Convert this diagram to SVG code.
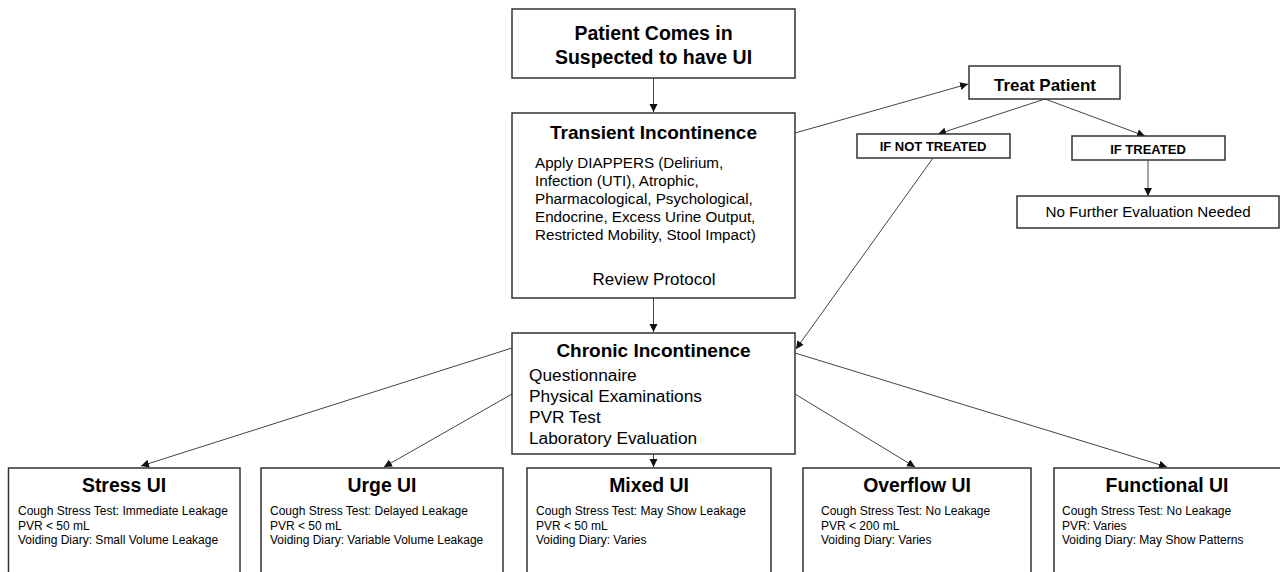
<svg xmlns="http://www.w3.org/2000/svg" width="1280" height="572" viewBox="0 0 1280 572">
<style>
.box{fill:#fff;stroke:#333;stroke-width:1.5}
.t{font-family:"Liberation Sans",Arial,sans-serif;fill:#000}
.b{font-weight:bold}
.c{text-anchor:middle}
.ln{stroke:#444;stroke-width:1;fill:none;marker-end:url(#ah)}
</style>
<defs>
<marker id="ah" markerUnits="userSpaceOnUse" markerWidth="10" markerHeight="10" refX="8" refY="4" orient="auto">
<path d="M0,0 L8,4 L0,8 z" fill="#111"/>
</marker>
</defs>
<rect width="1280" height="572" fill="#fff"/>
<g id="connectors">
<line class="ln" x1="653.5" y1="78" x2="653.5" y2="112"/>
<line class="ln" x1="653.5" y1="298" x2="653.5" y2="332"/>
<line class="ln" x1="653.5" y1="454" x2="653.5" y2="467"/>
<line class="ln" x1="795" y1="133" x2="968" y2="84"/>
<line class="ln" x1="1045" y1="99" x2="938" y2="134"/>
<line class="ln" x1="1045" y1="99" x2="1145" y2="136"/>
<line class="ln" x1="1148" y1="160" x2="1148" y2="196"/>
<line class="ln" x1="933" y1="158" x2="796" y2="349"/>
<line class="ln" x1="512" y1="348" x2="141" y2="466"/>
<line class="ln" x1="512" y1="394" x2="384" y2="467"/>
<line class="ln" x1="795" y1="394" x2="915" y2="467"/>
<line class="ln" x1="795" y1="353" x2="1167" y2="467"/>
</g>
<g id="patient">
<rect class="box" x="512" y="9" width="283" height="69"/>
<text class="t b c" x="653.5" y="40" font-size="19.5">Patient Comes in</text>
<text class="t b c" x="653.5" y="64" font-size="19.5">Suspected to have UI</text>
</g>
<g id="transient">
<rect class="box" x="512" y="113" width="283" height="185"/>
<text class="t b c" x="653.5" y="139" font-size="19">Transient Incontinence</text>
<text class="t" x="535" y="168" font-size="15.2">Apply DIAPPERS (Delirium,</text>
<text class="t" x="535" y="186" font-size="15.2">Infection (UTI), Atrophic,</text>
<text class="t" x="535" y="204" font-size="15.2">Pharmacological, Psychological,</text>
<text class="t" x="535" y="222" font-size="15.2">Endocrine, Excess Urine Output,</text>
<text class="t" x="535" y="240" font-size="15.2">Restricted Mobility, Stool Impact)</text>
<text class="t c" x="654" y="285" font-size="17">Review Protocol</text>
</g>
<g id="treat">
<rect class="box" x="969" y="66" width="151" height="33"/>
<text class="t b c" x="1045" y="91" font-size="17">Treat Patient</text>
</g>
<g id="not-treated">
<rect class="box" x="857" y="134" width="153" height="24"/>
<text class="t b c" x="933" y="151" font-size="13">IF NOT TREATED</text>
</g>
<g id="treated">
<rect class="box" x="1072" y="136" width="153" height="24"/>
<text class="t b c" x="1148" y="154" font-size="13">IF TREATED</text>
</g>
<g id="no-further">
<rect class="box" x="1017" y="196" width="262" height="32"/>
<text class="t c" x="1148" y="217" font-size="15.2">No Further Evaluation Needed</text>
</g>
<g id="chronic">
<rect class="box" x="512" y="333" width="283" height="121"/>
<text class="t b c" x="653.5" y="357" font-size="19">Chronic Incontinence</text>
<text class="t" x="529" y="381" font-size="17.3">Questionnaire</text>
<text class="t" x="529" y="402" font-size="17.3">Physical Examinations</text>
<text class="t" x="529" y="423" font-size="17.3">PVR Test</text>
<text class="t" x="529" y="444" font-size="17.3">Laboratory Evaluation</text>
</g>
<g id="stress">
<rect class="box" x="8.5" y="468" width="231.5" height="120"/>
<text class="t b c" x="124" y="492" font-size="19.4">Stress UI</text>
<text class="t" x="18" y="515" font-size="12">Cough Stress Test: Immediate Leakage</text>
<text class="t" x="18" y="529.5" font-size="12">PVR &lt; 50 mL</text>
<text class="t" x="18" y="544" font-size="12">Voiding Diary: Small Volume Leakage</text>
</g>
<g id="urge">
<rect class="box" x="261" y="468" width="242" height="120"/>
<text class="t b c" x="382" y="492" font-size="19.4">Urge UI</text>
<text class="t" x="270" y="515" font-size="12">Cough Stress Test: Delayed Leakage</text>
<text class="t" x="270" y="529.5" font-size="12">PVR &lt; 50 mL</text>
<text class="t" x="270" y="544" font-size="12">Voiding Diary: Variable Volume Leakage</text>
</g>
<g id="mixed">
<rect class="box" x="527" y="468" width="244" height="120"/>
<text class="t b c" x="649" y="492" font-size="19.4">Mixed UI</text>
<text class="t" x="536" y="515" font-size="12">Cough Stress Test: May Show Leakage</text>
<text class="t" x="536" y="529.5" font-size="12">PVR &lt; 50 mL</text>
<text class="t" x="536" y="544" font-size="12">Voiding Diary: Varies</text>
</g>
<g id="overflow">
<rect class="box" x="803" y="468" width="228" height="120"/>
<text class="t b c" x="917" y="492" font-size="19.4">Overflow UI</text>
<text class="t" x="821" y="515" font-size="12">Cough Stress Test: No Leakage</text>
<text class="t" x="821" y="529.5" font-size="12">PVR &lt; 200 mL</text>
<text class="t" x="821" y="544" font-size="12">Voiding Diary: Varies</text>
</g>
<g id="functional">
<rect class="box" x="1054" y="468" width="240" height="120"/>
<text class="t b c" x="1167" y="492" font-size="19.4">Functional UI</text>
<text class="t" x="1062" y="515" font-size="12">Cough Stress Test: No Leakage</text>
<text class="t" x="1062" y="529.5" font-size="12">PVR: Varies</text>
<text class="t" x="1062" y="544" font-size="12">Voiding Diary: May Show Patterns</text>
</g>
</svg>
